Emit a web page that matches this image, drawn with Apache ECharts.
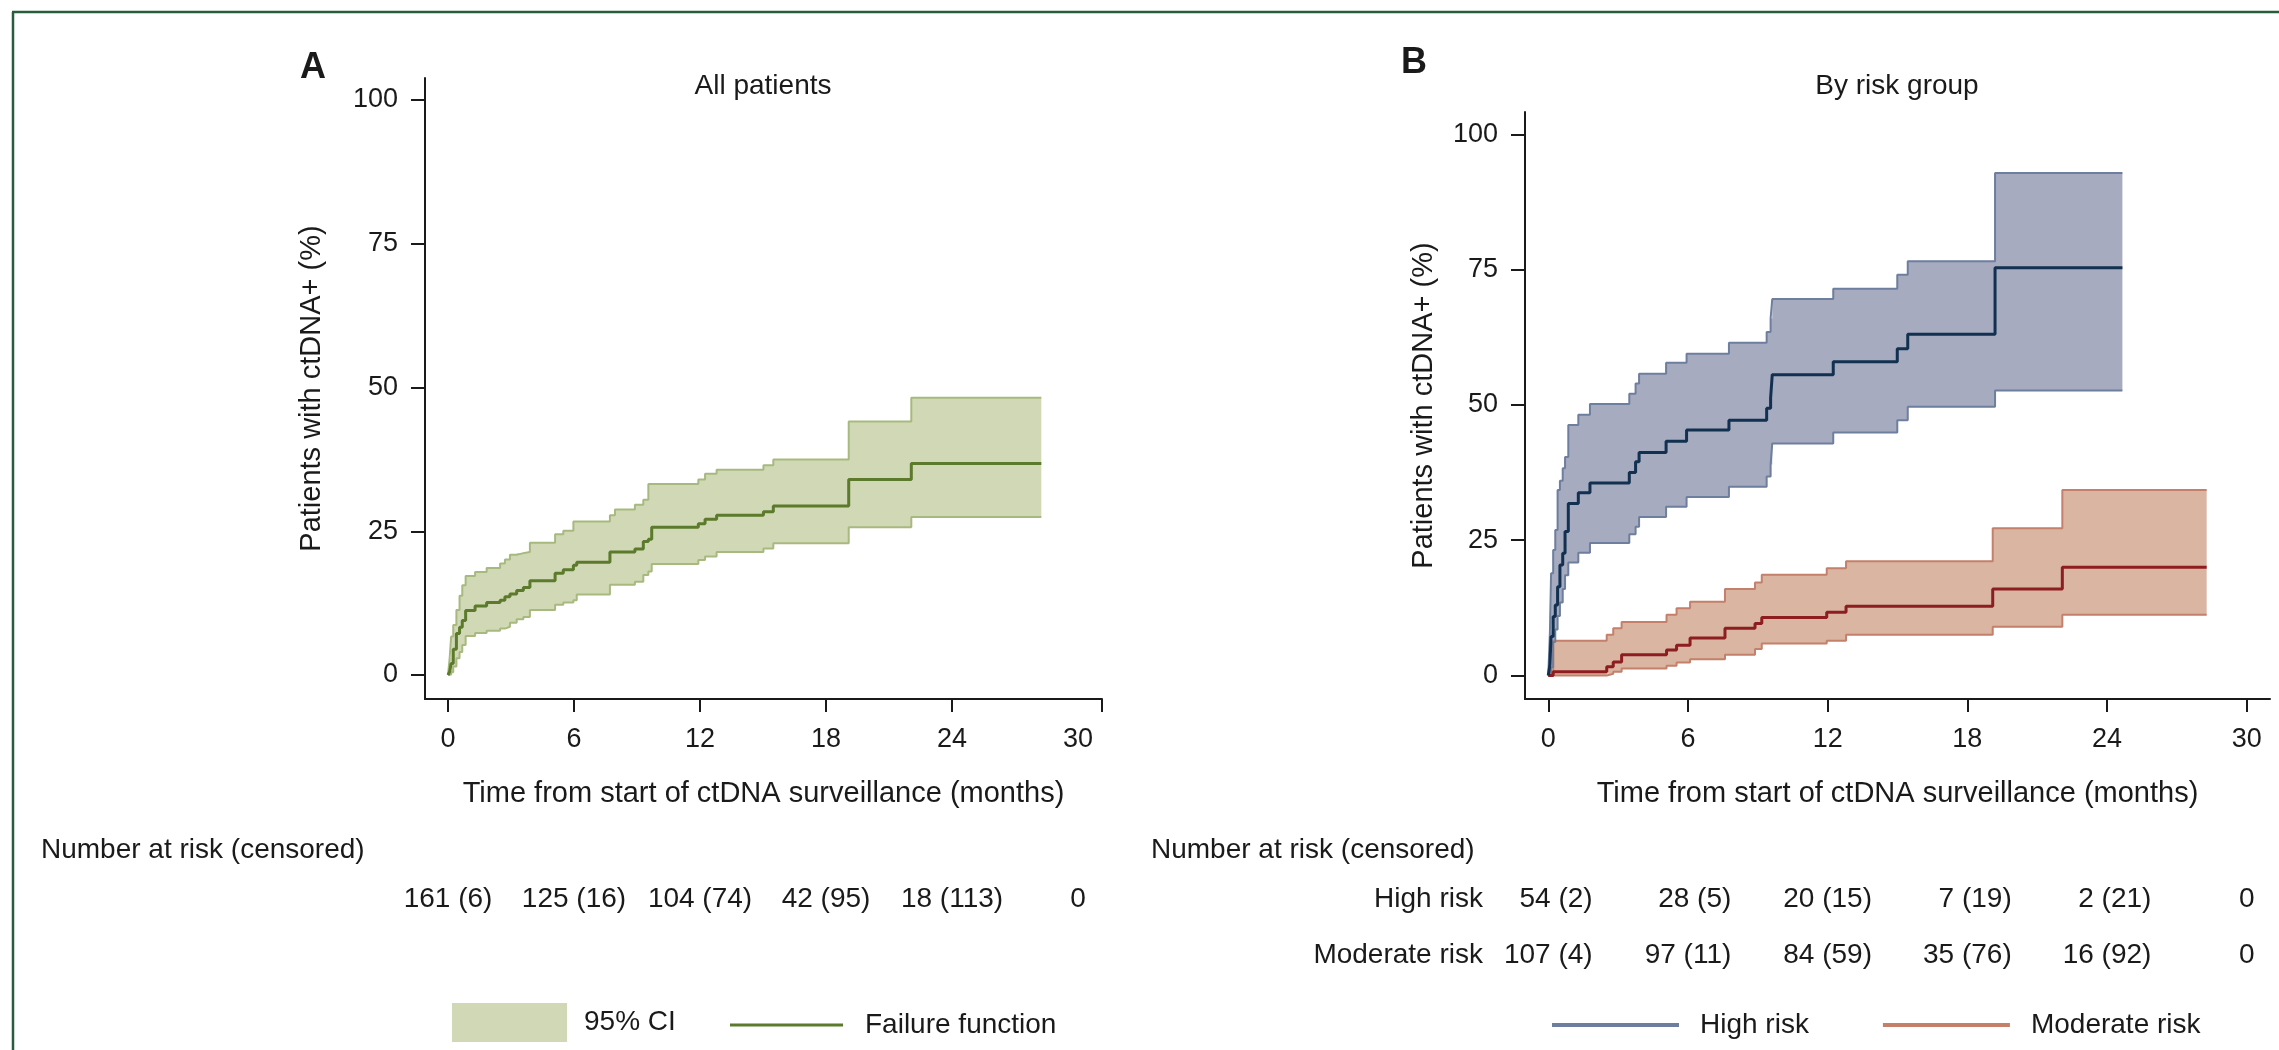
<!DOCTYPE html>
<html>
<head>
<meta charset="utf-8">
<title>ctDNA positivity over surveillance</title>
<script src="https://cdn.jsdelivr.net/npm/echarts@6/dist/echarts.min.js"></script>
<style>
html, body { margin: 0; padding: 0; background: #fff; }
#chart { width: 2279px; height: 1050px; }
</style>
</head>
<body>
<div id="chart"></div>
<script>
// ---- values ----
var monthTicks = [0, 6, 12, 18, 24, 30];
var pctTicks = [0, 25, 50, 75, 100];

// A: all patients (failure function with 95% CI)
var allTime  = [0, 0.08, 0.15, 0.25, 0.4, 0.55, 0.68, 0.84, 1.29, 1.84, 2.48, 2.71, 2.95, 3.27, 3.59, 3.9, 5.1, 5.49, 5.97, 6.13, 7.71, 7.95, 8.9, 9.3, 9.54, 9.7, 11.92, 12.24, 12.79, 15.02, 15.49, 19.08, 22.06, 28.25];
var allFail  = [0, 0.6, 2.0, 4.5, 7.2, 8.3, 9.5, 11.2, 12.0, 12.6, 13.0, 13.6, 14.1, 14.7, 15.2, 16.4, 17.7, 18.3, 19.1, 19.6, 21.4, 21.4, 21.9, 23.2, 23.6, 25.7, 26.3, 27.1, 27.8, 28.4, 29.4, 34.0, 36.8, 36.8];
var allLower = [0, 0.1, 0.5, 1.5, 2.9, 4.0, 5.2, 6.8, 7.3, 7.7, 8.1, 8.4, 9.1, 9.7, 10.1, 11.3, 12.2, 12.6, 13.0, 14.0, 15.7, 15.7, 16.2, 17.4, 18.0, 19.3, 20.0, 20.6, 21.4, 22.0, 22.9, 25.7, 27.5, 27.5];
var allUpper = [0, 3.0, 6.7, 8.7, 11.3, 13.8, 15.6, 17.2, 17.9, 18.6, 19.4, 20.1, 20.9, 21.2, 21.4, 23.0, 24.5, 25.1, 26.7, 26.7, 27.8, 28.8, 29.6, 30.5, 33.2, 33.2, 34.0, 35.0, 35.7, 36.5, 37.5, 44.1, 48.2, 48.2];
var allAtRisk = ['161 (6)', '125 (16)', '104 (74)', '42 (95)', '18 (113)', '0'];

// B: by risk group
var highTime  = [0, 0.07, 0.12, 0.21, 0.3, 0.4, 0.5, 0.62, 0.72, 0.86, 1.29, 1.79, 3.48, 3.75, 3.9, 5.06, 5.94, 7.76, 9.38, 9.55, 9.62, 12.24, 14.99, 15.44, 19.19, 24.66];
var highFail  = [0, 2.0, 7.2, 10.9, 13.0, 16.4, 20.4, 22.6, 26.6, 31.8, 33.8, 35.6, 37.5, 39.5, 41.2, 43.3, 45.4, 47.2, 49.4, 51.3, 55.6, 58.0, 60.4, 63.1, 75.4, 75.4];
var highLower = [0, 0.3, 1.5, 6.2, 8.5, 11.0, 13.5, 16.0, 18.5, 20.9, 22.7, 24.5, 26.1, 27.5, 29.3, 31.2, 33.0, 34.9, 36.8, 39.0, 42.9, 44.9, 47.2, 49.7, 52.7, 52.7];
var highUpper = [0, 8.0, 18.9, 23.2, 26.9, 34.3, 36.0, 38.3, 40.4, 46.3, 48.2, 50.2, 52.1, 54.0, 55.8, 57.8, 59.5, 61.5, 63.5, 66.0, 69.6, 71.5, 74.1, 76.6, 92.9, 92.9];

var modTime  = [0, 0.21, 2.51, 2.79, 3.15, 5.08, 5.51, 6.09, 7.59, 8.88, 9.17, 11.96, 12.79, 19.09, 22.08, 28.28];
var modFail  = [0, 0.7, 1.6, 2.5, 3.8, 4.7, 5.6, 6.9, 8.7, 9.6, 10.7, 11.7, 12.8, 16.0, 20.0, 20.0];
var modLower = [0, 0, 0.3, 0.7, 1.3, 1.8, 2.4, 3.0, 3.8, 4.9, 5.9, 6.4, 7.5, 9.0, 11.2, 11.2];
var modUpper = [0, 6.4, 7.5, 8.7, 9.9, 11.2, 12.4, 13.6, 16.0, 17.2, 18.6, 19.8, 21.1, 27.2, 34.3, 34.3];

var riskGroups = ['High risk', 'Moderate risk'];
var highAtRisk = ['54 (2)', '28 (5)', '20 (15)', '7 (19)', '2 (21)', '0'];
var modAtRisk  = ['107 (4)', '97 (11)', '84 (59)', '35 (76)', '16 (92)', '0'];

// ---- styling ----
var FONT = '"Liberation Sans", Arial, Helvetica, sans-serif';
var INK = '#1a1a1a';
var greenFill = '#d1d8b5', greenEdge = '#a8b97f', greenLine = '#5b7a2b';
var blueFill = '#a6abbf', blueEdge = '#6e7e9e', blueLine = '#12304f';
var redFill = '#d9b5a2', redEdge = '#c4806a', redLine = '#8e1d20';

var chart = echarts.init(document.getElementById('chart'));

function pairs(ts, vs) {
	return ts.map(function (t, i) { return [t, vs[i]]; });
}
// step outline (value held until next time point)
function steps(ts, vs) {
	var out = [];
	for (var i = 0; i < ts.length; i++) {
		if (i > 0) out.push([ts[i], vs[i - 1]]);
		out.push([ts[i], vs[i]]);
	}
	return out;
}
function band(name, ax, ts, lo, hi, fill) {
	var ring = steps(ts, hi).concat(steps(ts, lo).reverse());
	return {
		name: name, type: 'custom', xAxisIndex: ax, yAxisIndex: ax, silent: true, z: 1,
		itemStyle: { color: fill },
		data: [[ts[0], lo[0]]],
		renderItem: function (params, api) {
			return {
				type: 'polygon',
				shape: { points: ring.map(function (p) { return api.coord(p); }) },
				style: { fill: fill }
			};
		}
	};
}
function stepLine(name, ax, ts, vs, color, width, z) {
	return {
		name: name, type: 'line', xAxisIndex: ax, yAxisIndex: ax, step: 'end',
		symbol: 'none', silent: true, z: z,
		itemStyle: { color: color },
		lineStyle: { color: color, width: width },
		data: pairs(ts, vs)
	};
}

// text widths, so each risk-table column lines up on its right edge
var ctx = document.createElement('canvas').getContext('2d');
ctx.font = '28px ' + FONT;
function tw(s) { return ctx.measureText(s).width; }

function riskRow(row, labels, other) {
	return labels.map(function (s, k) {
		var dx = 0;
		if (other && k < labels.length - 1) {
			var wmax = Math.max(tw(s), tw(other[k]));
			dx = (wmax - tw(s)) / 2;
		}
		return { value: [monthTicks[k], row], text: s, label: { offset: [dx, 0] } };
	});
}
function tableSeries(ax, data) {
	return {
		type: 'scatter', xAxisIndex: ax, yAxisIndex: ax, silent: true,
		symbolSize: 0.01, itemStyle: { color: 'rgba(0,0,0,0)', opacity: 1 },
		label: {
			show: true, position: 'inside', fontSize: 28, color: INK, fontFamily: FONT,
			formatter: function (p) { return p.data.text; }
		},
		data: data
	};
}

function mainY(grid, min, max, gap) {
	return {
		gridIndex: grid, type: 'value', min: min, max: max,
		axisLine: { show: true, onZero: false, lineStyle: { color: INK, width: 2 } },
		axisTick: { show: true, length: 14, customValues: pctTicks, lineStyle: { color: INK, width: 2 } },
		axisLabel: { customValues: pctTicks, fontSize: 27, color: INK, margin: 27, fontFamily: FONT },
		splitLine: { show: false },
		name: 'Patients with ctDNA+ (%)', nameLocation: 'middle', nameGap: gap,
		nameTextStyle: { fontSize: 29, color: INK, fontFamily: FONT }
	};
}
function mainX(grid, min, max, tickVals) {
	return {
		gridIndex: grid, type: 'value', min: min, max: max,
		axisLine: { show: true, onZero: false, lineStyle: { color: INK, width: 2 } },
		axisTick: { show: true, length: 13, customValues: tickVals, lineStyle: { color: INK, width: 2 } },
		axisLabel: { customValues: monthTicks, fontSize: 27, color: INK, margin: 27, fontFamily: FONT },
		splitLine: { show: false },
		name: 'Time from start of ctDNA surveillance (months)', nameLocation: 'middle', nameGap: 80,
		nameTextStyle: { fontSize: 29, color: INK, fontFamily: FONT }
	};
}

function txt(s, x, y, size, align, bold) {
	return {
		type: 'text', x: x, y: y, silent: true,
		style: {
			text: s, fill: INK, font: (bold ? 'bold ' : '') + size + 'px ' + FONT,
			textAlign: align, textVerticalAlign: 'middle', align: align, verticalAlign: 'middle'
		}
	};
}

var legendText = { fontSize: 28, color: INK, fontFamily: FONT };

var option = {
	animation: false,
	backgroundColor: '#fff',
	textStyle: { fontFamily: FONT },
	grid: [
		{ left: 425, top: 78, width: 677, height: 621, outerBoundsMode: 'none' },
		{ left: 1525, top: 112, width: 745, height: 587, outerBoundsMode: 'none' },
		{ left: 425, top: 871, width: 677, height: 56, outerBoundsMode: 'none' },
		{ left: 1525, top: 871, width: 745, height: 112, outerBoundsMode: 'none' }
	],
	xAxis: [
		mainX(0, -1.095, 31.14, [0, 6, 12, 18, 24, 31.14]),
		mainX(1, -1.0, 31.0, monthTicks),
		{ gridIndex: 2, type: 'value', min: -1.095, max: 31.14, show: false },
		{ gridIndex: 3, type: 'value', min: -1.0, max: 31.0, show: false }
	],
	yAxis: [
		mainY(0, -4.17, 103.83, 99),
		mainY(1, -4.36, 104.18, 87),
		{ gridIndex: 2, type: 'category', data: ['all'], show: false },
		{
			gridIndex: 3, type: 'category', data: riskGroups, inverse: true,
			axisLine: { show: false }, axisTick: { show: false }, splitLine: { show: false },
			axisLabel: { fontSize: 28, color: INK, margin: 42, fontFamily: FONT }
		}
	],
	legend: [
		{
			data: [{ name: '95% CI', icon: 'rect' }], left: 452, top: 1003, padding: 0,
			itemWidth: 115, itemHeight: 39, selectedMode: false,
			textStyle: Object.assign({ padding: [0, 0, 0, 12] }, legendText)
		},
		{
			data: [{ name: 'Failure function', icon: 'rect' }], left: 730, top: 1011, padding: 0,
			itemWidth: 113, itemHeight: 3, selectedMode: false,
			textStyle: Object.assign({ padding: [0, 0, 0, 17] }, legendText)
		},
		{
			data: [{ name: 'High risk', icon: 'rect' }, { name: 'Moderate risk', icon: 'rect' }],
			left: 1552, top: 1011, padding: 0, itemGap: 74,
			itemWidth: 127, itemHeight: 4, selectedMode: false,
			textStyle: Object.assign({ padding: [0, 0, 0, 16] }, legendText)
		}
	],
	graphic: [
		{ type: 'line', silent: true, shape: { x1: 13, y1: 12, x2: 13, y2: 1050 }, style: { stroke: '#285c3c', lineWidth: 2.5 } },
		{ type: 'line', silent: true, shape: { x1: 12, y1: 12, x2: 2279, y2: 12 }, style: { stroke: '#285c3c', lineWidth: 2.5 } },
		txt('A', 300, 68, 36, 'left', true),
		txt('B', 1401, 63, 36, 'left', true),
		txt('All patients', 763, 86, 28, 'center'),
		txt('By risk group', 1897, 86, 28, 'center'),
		txt('Number at risk (censored)', 41, 850, 28, 'left'),
		txt('Number at risk (censored)', 1151, 850, 28, 'left')
	],
	series: [
		band('95% CI', 0, allTime, allLower, allUpper, greenFill),
		stepLine('all upper', 0, allTime, allUpper, greenEdge, 2, 2),
		stepLine('all lower', 0, allTime, allLower, greenEdge, 2, 2),
		stepLine('Failure function', 0, allTime, allFail, greenLine, 3, 3),

		band('moderate CI', 1, modTime, modLower, modUpper, redFill),
		band('high CI', 1, highTime, highLower, highUpper, blueFill),
		stepLine('Moderate risk', 1, modTime, modUpper, redEdge, 2, 2),
		stepLine('moderate lower', 1, modTime, modLower, redEdge, 2, 2),
		stepLine('High risk', 1, highTime, highUpper, blueEdge, 2, 2),
		stepLine('high lower', 1, highTime, highLower, blueEdge, 2, 2),
		stepLine('moderate estimate', 1, modTime, modFail, redLine, 3, 3),
		stepLine('high estimate', 1, highTime, highFail, blueLine, 3, 3),

		tableSeries(2, riskRow(0, allAtRisk)),
		tableSeries(3, riskRow(0, highAtRisk, modAtRisk).concat(riskRow(1, modAtRisk, highAtRisk)))
	]
};

chart.setOption(option);
</script>
</body>
</html>
